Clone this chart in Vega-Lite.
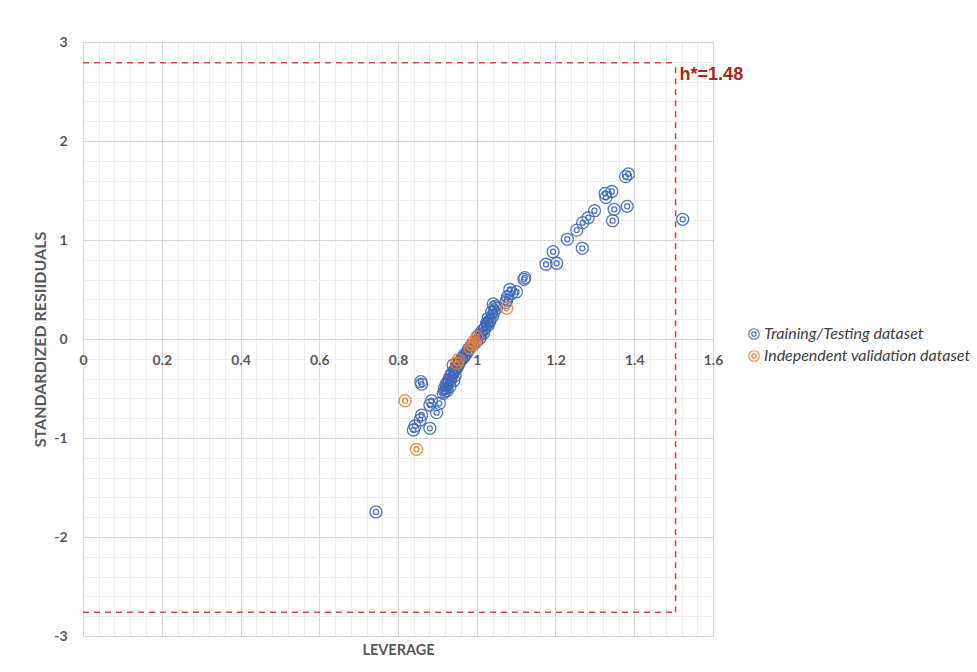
{
  "$schema": "https://vega.github.io/schema/vega-lite/v6.json",
  "width": 630,
  "height": 594,
  "autosize": {"type": "none"},
  "padding": {"left": 83, "top": 42, "right": 264, "bottom": 36},
  "background": "white",
  "config": {"view": {"stroke": null}, "font": "Lato"},
  "datasets": {
    "limits": [
      {"x": 0, "x2": 1.505, "y": 2.79, "y2": 2.79},
      {"x": 1.505, "x2": 1.505, "y": -2.76, "y2": 2.79},
      {"x": 0, "x2": 1.505, "y": -2.76, "y2": -2.76}
    ],
    "label": [{"x": 1.505, "y": 2.79, "text": "h*=1.48"}],
    "points": [
      {"leverage": 1.385, "residual": 1.667, "set": "Training/Testing dataset"},
      {"leverage": 1.378, "residual": 1.64, "set": "Training/Testing dataset"},
      {"leverage": 1.326, "residual": 1.47, "set": "Training/Testing dataset"},
      {"leverage": 1.343, "residual": 1.49, "set": "Training/Testing dataset"},
      {"leverage": 1.328, "residual": 1.43, "set": "Training/Testing dataset"},
      {"leverage": 1.349, "residual": 1.31, "set": "Training/Testing dataset"},
      {"leverage": 1.382, "residual": 1.34, "set": "Training/Testing dataset"},
      {"leverage": 1.345, "residual": 1.195, "set": "Training/Testing dataset"},
      {"leverage": 1.299, "residual": 1.296, "set": "Training/Testing dataset"},
      {"leverage": 1.283, "residual": 1.225, "set": "Training/Testing dataset"},
      {"leverage": 1.269, "residual": 1.175, "set": "Training/Testing dataset"},
      {"leverage": 1.254, "residual": 1.1, "set": "Training/Testing dataset"},
      {"leverage": 1.23, "residual": 1.007, "set": "Training/Testing dataset"},
      {"leverage": 1.268, "residual": 0.916, "set": "Training/Testing dataset"},
      {"leverage": 1.194, "residual": 0.882, "set": "Training/Testing dataset"},
      {"leverage": 1.176, "residual": 0.755, "set": "Training/Testing dataset"},
      {"leverage": 1.203, "residual": 0.765, "set": "Training/Testing dataset"},
      {"leverage": 1.122, "residual": 0.62, "set": "Training/Testing dataset"},
      {"leverage": 1.12, "residual": 0.603, "set": "Training/Testing dataset"},
      {"leverage": 1.084, "residual": 0.5, "set": "Training/Testing dataset"},
      {"leverage": 1.101, "residual": 0.478, "set": "Training/Testing dataset"},
      {"leverage": 1.089, "residual": 0.46, "set": "Training/Testing dataset"},
      {"leverage": 1.078, "residual": 0.427, "set": "Training/Testing dataset"},
      {"leverage": 1.076, "residual": 0.394, "set": "Training/Testing dataset"},
      {"leverage": 1.074, "residual": 0.37, "set": "Training/Testing dataset"},
      {"leverage": 1.042, "residual": 0.354, "set": "Training/Testing dataset"},
      {"leverage": 1.046, "residual": 0.33, "set": "Training/Testing dataset"},
      {"leverage": 1.05, "residual": 0.31, "set": "Training/Testing dataset"},
      {"leverage": 1.044, "residual": 0.276, "set": "Training/Testing dataset"},
      {"leverage": 1.038, "residual": 0.27, "set": "Training/Testing dataset"},
      {"leverage": 1.04, "residual": 0.23, "set": "Training/Testing dataset"},
      {"leverage": 1.029, "residual": 0.209, "set": "Training/Testing dataset"},
      {"leverage": 1.034, "residual": 0.19, "set": "Training/Testing dataset"},
      {"leverage": 1.032, "residual": 0.18, "set": "Training/Testing dataset"},
      {"leverage": 1.025, "residual": 0.159, "set": "Training/Testing dataset"},
      {"leverage": 1.027, "residual": 0.15, "set": "Training/Testing dataset"},
      {"leverage": 1.029, "residual": 0.14, "set": "Training/Testing dataset"},
      {"leverage": 1.021, "residual": 0.108, "set": "Training/Testing dataset"},
      {"leverage": 1.019, "residual": 0.1, "set": "Training/Testing dataset"},
      {"leverage": 1.013, "residual": 0.08, "set": "Training/Testing dataset"},
      {"leverage": 1.017, "residual": 0.057, "set": "Training/Testing dataset"},
      {"leverage": 1.011, "residual": 0.05, "set": "Training/Testing dataset"},
      {"leverage": 1.004, "residual": 0.03, "set": "Training/Testing dataset"},
      {"leverage": 1.008, "residual": 0.007, "set": "Training/Testing dataset"},
      {"leverage": 1.0, "residual": -0.02, "set": "Training/Testing dataset"},
      {"leverage": 0.99, "residual": -0.06, "set": "Training/Testing dataset"},
      {"leverage": 0.985, "residual": -0.07, "set": "Training/Testing dataset"},
      {"leverage": 0.98, "residual": -0.1, "set": "Training/Testing dataset"},
      {"leverage": 0.978, "residual": -0.111, "set": "Training/Testing dataset"},
      {"leverage": 0.975, "residual": -0.14, "set": "Training/Testing dataset"},
      {"leverage": 0.968, "residual": -0.16, "set": "Training/Testing dataset"},
      {"leverage": 0.97, "residual": -0.17, "set": "Training/Testing dataset"},
      {"leverage": 0.966, "residual": -0.19, "set": "Training/Testing dataset"},
      {"leverage": 0.962, "residual": -0.2, "set": "Training/Testing dataset"},
      {"leverage": 0.957, "residual": -0.229, "set": "Training/Testing dataset"},
      {"leverage": 0.955, "residual": -0.25, "set": "Training/Testing dataset"},
      {"leverage": 0.94, "residual": -0.263, "set": "Training/Testing dataset"},
      {"leverage": 0.948, "residual": -0.28, "set": "Training/Testing dataset"},
      {"leverage": 0.95, "residual": -0.29, "set": "Training/Testing dataset"},
      {"leverage": 0.945, "residual": -0.313, "set": "Training/Testing dataset"},
      {"leverage": 0.944, "residual": -0.32, "set": "Training/Testing dataset"},
      {"leverage": 0.938, "residual": -0.34, "set": "Training/Testing dataset"},
      {"leverage": 0.936, "residual": -0.36, "set": "Training/Testing dataset"},
      {"leverage": 0.945, "residual": -0.37, "set": "Training/Testing dataset"},
      {"leverage": 0.932, "residual": -0.38, "set": "Training/Testing dataset"},
      {"leverage": 0.935, "residual": -0.4, "set": "Training/Testing dataset"},
      {"leverage": 0.93, "residual": -0.41, "set": "Training/Testing dataset"},
      {"leverage": 0.942, "residual": -0.42, "set": "Training/Testing dataset"},
      {"leverage": 0.927, "residual": -0.43, "set": "Training/Testing dataset"},
      {"leverage": 0.928, "residual": -0.447, "set": "Training/Testing dataset"},
      {"leverage": 0.922, "residual": -0.46, "set": "Training/Testing dataset"},
      {"leverage": 0.932, "residual": -0.48, "set": "Training/Testing dataset"},
      {"leverage": 0.923, "residual": -0.498, "set": "Training/Testing dataset"},
      {"leverage": 0.918, "residual": -0.5, "set": "Training/Testing dataset"},
      {"leverage": 0.925, "residual": -0.52, "set": "Training/Testing dataset"},
      {"leverage": 0.919, "residual": -0.532, "set": "Training/Testing dataset"},
      {"leverage": 0.915, "residual": -0.55, "set": "Training/Testing dataset"},
      {"leverage": 0.858, "residual": -0.431, "set": "Training/Testing dataset"},
      {"leverage": 0.86, "residual": -0.455, "set": "Training/Testing dataset"},
      {"leverage": 0.885, "residual": -0.623, "set": "Training/Testing dataset"},
      {"leverage": 0.905, "residual": -0.65, "set": "Training/Testing dataset"},
      {"leverage": 0.881, "residual": -0.667, "set": "Training/Testing dataset"},
      {"leverage": 0.898, "residual": -0.744, "set": "Training/Testing dataset"},
      {"leverage": 0.86, "residual": -0.768, "set": "Training/Testing dataset"},
      {"leverage": 0.856, "residual": -0.818, "set": "Training/Testing dataset"},
      {"leverage": 0.843, "residual": -0.879, "set": "Training/Testing dataset"},
      {"leverage": 0.881, "residual": -0.902, "set": "Training/Testing dataset"},
      {"leverage": 0.839, "residual": -0.919, "set": "Training/Testing dataset"},
      {"leverage": 0.744, "residual": -1.747, "set": "Training/Testing dataset"},
      {"leverage": 1.523, "residual": 1.209, "set": "Training/Testing dataset"},
      {"leverage": 0.818, "residual": -0.623, "set": "Independent validation dataset"},
      {"leverage": 0.847, "residual": -1.114, "set": "Independent validation dataset"},
      {"leverage": 0.949, "residual": -0.245, "set": "Independent validation dataset"},
      {"leverage": 0.953, "residual": -0.21, "set": "Independent validation dataset"},
      {"leverage": 0.983, "residual": -0.094, "set": "Independent validation dataset"},
      {"leverage": 0.987, "residual": -0.06, "set": "Independent validation dataset"},
      {"leverage": 0.991, "residual": -0.027, "set": "Independent validation dataset"},
      {"leverage": 0.995, "residual": -0.044, "set": "Independent validation dataset"},
      {"leverage": 1.0, "residual": 0.023, "set": "Independent validation dataset"},
      {"leverage": 1.076, "residual": 0.31, "set": "Independent validation dataset"}
    ]
  },
  "layer": [
    {
      "data": {"name": "limits"},
      "mark": {"type": "rule", "color": "#e2453b", "strokeWidth": 1.6, "strokeDash": [6, 5]},
      "encoding": {
        "x": {
          "field": "x", "type": "quantitative",
          "scale": {"domain": [0, 1.6], "nice": false, "zero": false},
          "axis": {
            "orient": "bottom",
            "offset": -297,
            "values": [0,0.04,0.08,0.12,0.16,0.2,0.24,0.28,0.32,0.36,0.4,0.44,0.48,0.52,0.56,0.6,0.64,0.68,0.72,0.76,0.8,0.84,0.88,0.92,0.96,1,1.04,1.08,1.12,1.16,1.2,1.24,1.28,1.32,1.36,1.4,1.44,1.48,1.52,1.56,1.6],
            "tickCount": 200,
            "grid": true,
            "gridColor": {"condition": {"test": "abs(datum.value*5 - round(datum.value*5)) < 0.001", "value": "#d6d6d6"}, "value": "#eeeeee"},
            "gridWidth": 1,
            "ticks": false,
            "tickSize": 0,
            "domain": false,
            "labelExpr": "abs(datum.value*5 - round(datum.value*5)) < 0.001 ? '' + round(datum.value*5)/5 : ''",
            "labelOverlap": false,
            "labelBound": false,
            "labelFlush": false,
            "labelPadding": 14,
            "labelFont": "Lato",
            "labelFontWeight": "bold",
            "labelFontSize": 14,
            "labelColor": "#595959",
            "title": "LEVERAGE",
            "titleFont": "Lato",
            "titleFontWeight": "bold",
            "titleFontSize": 14.5,
            "titleColor": "#595959",
            "titleY": 311,
            "titleBaseline": "middle"
          }
        },
        "x2": {"field": "x2"},
        "y": {
          "field": "y", "type": "quantitative",
          "scale": {"domain": [-3, 3], "nice": false, "zero": false},
          "axis": {
            "orient": "left",
            "values": [-3,-2.8,-2.6,-2.4,-2.2,-2,-1.8,-1.6,-1.4,-1.2,-1,-0.8,-0.6,-0.4,-0.2,0,0.2,0.4,0.6,0.8,1,1.2,1.4,1.6,1.8,2,2.2,2.4,2.6,2.8,3],
            "tickCount": 200,
            "grid": true,
            "gridColor": {"condition": {"test": "abs(datum.value - round(datum.value)) < 0.001", "value": "#d6d6d6"}, "value": "#eeeeee"},
            "gridWidth": 1,
            "ticks": false,
            "tickSize": 0,
            "domain": false,
            "labelExpr": "abs(datum.value - round(datum.value)) < 0.001 ? '' + round(datum.value) : ''",
            "labelOverlap": false,
            "labelBound": false,
            "labelFlush": false,
            "labelPadding": 16,
            "labelFont": "Lato",
            "labelFontWeight": "bold",
            "labelFontSize": 14,
            "labelColor": "#595959",
            "title": "STANDARDIZED RESIIDUALS",
            "titleFont": "Lato",
            "titleFontWeight": "bold",
            "titleFontSize": 16,
            "titleColor": "#595959",
            "titleX": -43,
            "titleBaseline": "middle"
          }
        },
        "y2": {"field": "y2"}
      }
    },
    {
      "data": {"name": "points"},
      "mark": {
        "type": "point",
        "shape": "M-1,0A1,1,0,1,0,1,0A1,1,0,1,0,-1,0ZM-0.42,0A0.42,0.42,0,1,0,0.42,0A0.42,0.42,0,1,0,-0.42,0Z",
        "size": 144,
        "filled": false,
        "strokeWidth": 1.3,
        "opacity": 0.9
      },
      "encoding": {
        "x": {"field": "leverage", "type": "quantitative"},
        "y": {"field": "residual", "type": "quantitative"},
        "color": {
          "field": "set", "type": "nominal",
          "scale": {"domain": ["Training/Testing dataset", "Independent validation dataset"], "range": ["#4169b8", "#ed7d31"]},
          "legend": {
            "orient": "none",
            "legendX": 663,
            "legendY": 284,
            "title": null,
            "symbolType": "M-1,0A1,1,0,1,0,1,0A1,1,0,1,0,-1,0ZM-0.42,0A0.42,0.42,0,1,0,0.42,0A0.42,0.42,0,1,0,-0.42,0Z",
            "symbolSize": 110,
            "symbolStrokeWidth": 1.2,
            "symbolFillColor": "transparent",
            "labelFont": "Lato",
            "labelFontStyle": "italic",
            "labelFontSize": 16,
            "labelColor": "#404040",
            "labelOffset": 2,
            "rowPadding": 6,
            "labelLimit": 400
          }
        }
      }
    },
    {
      "data": {"name": "label"},
      "mark": {"type": "text", "align": "left", "baseline": "middle", "dx": 4, "dy": 12, "font": "Liberation Sans", "fontWeight": "bold", "fontSize": 18, "color": "#a8281c"},
      "encoding": {
        "x": {"field": "x", "type": "quantitative"},
        "y": {"field": "y", "type": "quantitative"},
        "text": {"field": "text"}
      }
    }
  ]
}
